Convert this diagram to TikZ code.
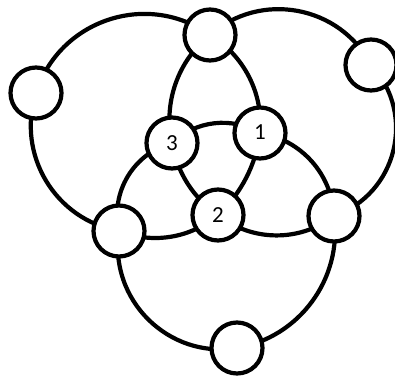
\documentclass[tikz,border=0pt]{standalone}
\usepackage{fontspec}
\setmainfont{Carlito}
\usetikzlibrary{backgrounds}
\begin{document}
\begin{tikzpicture}[x=1pt,y=-1pt,
  ring/.style={line width=4.2pt},
  spot/.style={circle,draw,line width=4.2pt,fill=white,minimum size=51pt,inner sep=0pt,font=\fontsize{23}{23}\selectfont}]
\useasboundingbox (0,0) rectangle (395,377);
\node[spot] (T) at (210,35) {};
\node[spot] (L) at (36,93) {};
\node[spot] (RT) at (371,65) {};
\node[spot] (n3) at (172,143) {\raisebox{-2pt}{3}};
\node[spot] (n1) at (260,133) {\raisebox{1.5pt}{1}};
\node[spot] (n2) at (218,215) {\raisebox{-1pt}{2}};
\node[spot] (LL) at (119,231) {};
\node[spot] (LR) at (334,216) {};
\node[spot] (B) at (237,348) {};
\begin{scope}[on background layer]
% circle through T, L, LL, 2, 1
\draw[ring] (T.center) to[bend right=54,looseness=1.07] (L.center);
\draw[ring] (L.center) to[bend right=49,looseness=1.03] (LL.center);
\draw[ring] (LL.center) to[bend right=31,looseness=0.92] (n2.center);
\draw[ring] (n2.center) to[bend right=20,looseness=0.88] (n1.center);
\draw[ring] (n1.center) to[bend right=32,looseness=0.92] (T.center);
% circle through T, 3, 2, LR, RT
\draw[ring] (T.center) to[bend right=32,looseness=0.92] (n3.center);
\draw[ring] (n3.center) to[bend right=23,looseness=0.89] (n2.center);
\draw[ring] (n2.center) to[bend right=38,looseness=0.95] (LR.center);
\draw[ring] (LR.center) to[bend right=57,looseness=1.10] (RT.center);
\draw[ring] (RT.center) to[bend right=52,looseness=1.05] (T.center);
% circle through LL, B, LR, 1, 3
\draw[ring] (LL.center) to[bend right=54,looseness=1.07] (B.center);
\draw[ring] (B.center) to[bend right=44,looseness=0.99] (LR.center);
\draw[ring] (LR.center) to[bend right=39,looseness=0.96] (n1.center);
\draw[ring] (n1.center) to[bend right=37,looseness=0.95] (n3.center);
\draw[ring] (n3.center) to[bend right=44,looseness=0.99] (LL.center);
\end{scope}
\end{tikzpicture}
\end{document}
